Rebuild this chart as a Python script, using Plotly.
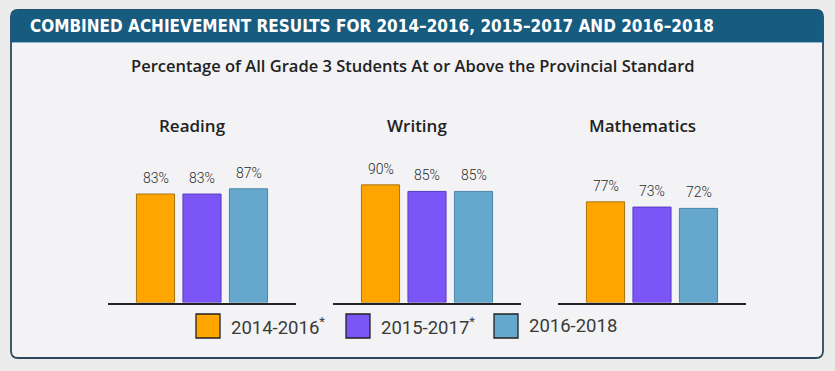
import plotly.graph_objects as go

subjects = ["Reading", "Writing", "Mathematics"]
series_names = ["2014-2016*", "2015-2017*", "2016-2018"]
values = {
    "2014-2016*": [83, 90, 77],
    "2015-2017*": [83, 85, 73],
    "2016-2018": [87, 85, 72],
}
bar_colors = ["#FFA500", "#7B55F6", "#65A7CD"]
bar_lines = ["#a87410", "#5a3cc0", "#4a86a8"]

title_text = "COMBINED ACHIEVEMENT RESULTS FOR 2014\u20132016, 2015\u20132017 AND 2016\u20132018"
subtitle_text = "Percentage of All Grade 3 Students At or Above the Provincial Standard"

W, H = 835, 371
def px(x):
    return x / W
def py(y):
    return 1 - y / H

domains = [(108, 296), (333, 521), (558, 746)]
base_y, top_y = 302.5, 171.8

fig = go.Figure()
axis_ids = ["", "2", "3"]
for si, subj in enumerate(subjects):
    ax = axis_ids[si]
    for ki, name in enumerate(series_names):
        fig.add_trace(go.Bar(
            x=[subj], y=[values[name][si]], name=name,
            xaxis="x" + ax, yaxis="y" + ax,
            marker=dict(color=bar_colors[ki], line=dict(color=bar_lines[ki], width=1)),
            showlegend=False, hoverinfo="skip",
        ))
        fig.add_annotation(
            x=subj, y=values[name][si], xref="x" + ax, yref="y" + ax,
            text=f"{values[name][si]}%", showarrow=False,
            yanchor="bottom", yshift=6, xshift=(ki - 1) * 46.5,
            font=dict(family="Roboto, sans-serif", size=14, color="#2a2a2a", weight=300),
        )
    fig.add_annotation(
        x=0.447, y=py(126), xref=("x" + ax + " domain"), yref="paper",
        text=subj, showarrow=False, xanchor="center", yanchor="middle",
        font=dict(family="Open Sans", size=17, color="#222222", weight=600),
    )

layout_axes = {}
for si in range(3):
    ax = axis_ids[si]
    d = domains[si]
    layout_axes["xaxis" + ax] = dict(
        domain=[px(d[0]), px(d[1])], showline=True, linecolor="#222222", linewidth=1.6,
        showticklabels=False, ticks="", showgrid=False, zeroline=False, fixedrange=True,
        anchor="y" + ax,
    )
    layout_axes["yaxis" + ax] = dict(
        domain=[py(base_y), py(top_y)], range=[0, 100], visible=False,
        showgrid=False, zeroline=False, anchor="x" + ax, fixedrange=True,
    )

def rounded_path(x0, y0, x1, y1, r, top=True, bottom=True):
    X0, X1 = px(x0), px(x1)
    Y0, Y1 = py(y0), py(y1)
    rx, ry = r / W, r / H
    p = ""
    if top:
        p += f"M {X0},{Y0 - ry} Q {X0},{Y0} {X0 + rx},{Y0} L {X1 - rx},{Y0} Q {X1},{Y0} {X1},{Y0 - ry} "
    else:
        p += f"M {X0},{Y0} L {X1},{Y0} "
    if bottom:
        p += f"L {X1},{Y1 + ry} Q {X1},{Y1} {X1 - rx},{Y1} L {X0 + rx},{Y1} Q {X0},{Y1} {X0},{Y1 + ry} Z"
    else:
        p += f"L {X1},{Y1} L {X0},{Y1} Z"
    return p

shapes = [
    dict(type="path", path=rounded_path(11, 10, 823, 358, 7), xref="paper", yref="paper",
         fillcolor="#f3f3f5", line=dict(color="#2c4a5e", width=1.8), layer="below"),
    dict(type="path", path=rounded_path(11, 10, 823, 42, 7, bottom=False), xref="paper", yref="paper",
         fillcolor="#175b7e", line=dict(color="#175b7e", width=1), layer="below"),
    dict(type="line", x0=px(12), x1=px(822), y0=py(42.5), y1=py(42.5), xref="paper", yref="paper",
         line=dict(color="#8fb8cf", width=1), layer="below"),
]

annotations = [
    dict(x=px(28), y=py(26), xref="paper", yref="paper", text=title_text, showarrow=False,
         xanchor="left", yanchor="middle",
         font=dict(family="DejaVu Sans Condensed, Open Sans, sans-serif", size=17,
                   color="#ffffff", weight="bold")),
    dict(x=px(413), y=py(65), xref="paper", yref="paper", text=subtitle_text, showarrow=False,
         xanchor="center", yanchor="middle",
         font=dict(family="Open Sans", size=16.5, color="#222222", weight=600)),
]

legend_x = [196, 346, 494]
for ki, name in enumerate(series_names):
    x0 = legend_x[ki]
    shapes.append(dict(type="rect", x0=px(x0), x1=px(x0 + 24), y0=py(314), y1=py(338),
                       xref="paper", yref="paper", fillcolor=bar_colors[ki],
                       line=dict(color="#222222", width=1.3)))
    label = name.replace("*", "<sup>*</sup>")
    annotations.append(dict(x=px(x0 + 33), y=py(326), xref="paper", yref="paper", text=label,
                            showarrow=False, xanchor="left", yanchor="middle",
                            font=dict(family="Roboto", size=18.5, color="#3a3a3a")))

fig.update_layout(
    width=W, height=H, margin=dict(l=0, r=0, t=0, b=0),
    paper_bgcolor="#ececec", plot_bgcolor="rgba(0,0,0,0)",
    barmode="group", bargap=0.258, bargroupgap=0.18,
    shapes=shapes, showlegend=False, **layout_axes,
)
for a in annotations:
    fig.add_annotation(**a)

fig.write_html("out.html", config={"displayModeBar": False},
               post_script="document.body.style.margin='0px';document.body.style.background='#ececec';")
